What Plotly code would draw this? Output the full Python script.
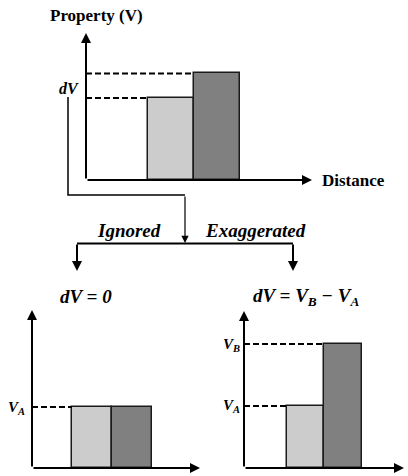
import plotly.graph_objects as go

# ---- data -------------------------------------------------------------
categories = ["A", "B"]                 # the two adjacent regions
top_heights = [1.0, 1.3]                # property V in region A and B
ignored_heights = [1.0, 1.0]            # dV ignored: both at V_A
exaggerated_heights = [1.0, 2.0]        # dV exaggerated: V_A and V_B
bar_colors = ["#cccccc", "#808080"]

# ---- canvas helpers ---------------------------------------------------
W, H = 408, 476
FONT = "Liberation Serif, Times New Roman, serif"


def px(x):
    return x / W


def py(y):
    return 1 - y / H


fig = go.Figure()

# panel geometry: (left, right, bottom, top, centre of bar A, bar width, px per unit)
panels = [
    dict(ax="", heights=top_heights, left=86, right=312, bottom=180, top=33,
         a_center=171, bar_w=46, unit_px=82),
    dict(ax="2", heights=ignored_heights, left=32, right=200, bottom=468, top=310,
         a_center=92, bar_w=40, unit_px=61),
    dict(ax="3", heights=exaggerated_heights, left=244, right=404, bottom=468, top=311,
         a_center=305.5, bar_w=37.5, unit_px=62),
]

shapes = []
annotations = []

for p in panels:
    xr = [-(p["a_center"] - p["left"]) / p["bar_w"], (p["right"] - p["a_center"]) / p["bar_w"]]
    yr = [0, (p["bottom"] - p["top"]) / p["unit_px"]]
    xa, ya = "x" + p["ax"], "y" + p["ax"]
    fig.add_trace(go.Bar(
        x=list(range(len(categories))), y=p["heights"], width=1,
        marker=dict(color=bar_colors, line=dict(color="#1a1a1a", width=1.5)),
        xaxis=xa, yaxis=ya, hoverinfo="skip", showlegend=False,
    ))
    axis_style = dict(showgrid=False, zeroline=False, showline=False,
                      showticklabels=False, ticks="", fixedrange=True)
    fig.update_layout(**{
        "xaxis" + p["ax"]: dict(domain=[px(p["left"]), px(p["right"])], range=xr,
                                anchor=ya, **axis_style),
        "yaxis" + p["ax"]: dict(domain=[py(p["bottom"]), py(p["top"])], range=yr,
                                anchor=xa, **axis_style),
    })
    # dashed guides from the axis to the left edge of each bar, at its height
    seen = set()
    for i, h in enumerate(p["heights"]):
        if h in seen:
            continue
        seen.add(h)
        shapes.append(dict(type="line", xref=xa, yref=ya, x0=xr[0], x1=i - 0.5,
                           y0=h, y1=h, line=dict(color="black", width=2, dash="6px,3px")))
    # axis arrows
    plot_h = p["bottom"] - p["top"]
    plot_w = p["right"] - p["left"]
    annotations.append(dict(xref=xa + " domain", yref=ya + " domain", x=0, y=1,
                            ax=0, ay=plot_h, axref="pixel", ayref="pixel", text="",
                            showarrow=True, arrowhead=2, arrowsize=1, arrowwidth=2,
                            arrowcolor="black"))
    annotations.append(dict(xref=xa + " domain", yref=ya + " domain", x=1, y=0,
                            ax=-plot_w, ay=0, axref="pixel", ayref="pixel", text="",
                            showarrow=True, arrowhead=2, arrowsize=1, arrowwidth=2,
                            arrowcolor="black"))

# ---- flow lines between the panels ----------------------------------
shapes.append(dict(type="path", xref="paper", yref="paper",
                   path=f"M{px(68)},{py(97)} L{px(68)},{py(195)} L{px(185)},{py(195)}",
                   line=dict(color="black", width=1.5)))
shapes.append(dict(type="line", xref="paper", yref="paper",
                   x0=px(77), x1=px(293), y0=py(243.5), y1=py(243.5),
                   line=dict(color="black", width=2)))
annotations.append(dict(xref="paper", yref="paper", x=px(185), y=py(243), ax=0, ay=-48,
                        text="", showarrow=True, arrowhead=2, arrowsize=1.2,
                        arrowwidth=1.2, arrowcolor="black"))
for xx in (77, 293):
    annotations.append(dict(xref="paper", yref="paper", x=px(xx), y=py(271), ax=0, ay=-28,
                            text="", showarrow=True, arrowhead=2, arrowsize=1,
                            arrowwidth=2, arrowcolor="black"))


# ---- text -------------------------------------------------------------
def label(text, x, y, size, xanchor="center"):
    annotations.append(dict(xref="paper", yref="paper", x=px(x), y=py(y), text=text,
                            showarrow=False, xanchor=xanchor, yanchor="middle",
                            font=dict(family=FONT, size=size, color="black")))


label("<b>Property (V)</b>", 96, 16, 17)
label("<b>Distance</b>", 320, 180, 17, xanchor="left")
label("<b><i>dV</i></b>", 69, 88, 16)
label("<b><i>Ignored</i></b>", 129, 230, 19)
label("<b><i>Exaggerated</i></b>", 255, 230, 19)
label("<b><i>dV = 0</i></b>", 86, 296, 19)
label("<b><i>dV = V<sub>B</sub> − V<sub>A</sub></i></b>", 306, 297, 19)
label("<b><i>V<sub>A</sub></i></b>", 16, 408, 15)
label("<b><i>V<sub>B</sub></i></b>", 231, 345, 15)
label("<b><i>V<sub>A</sub></i></b>", 231, 406, 15)

fig.update_layout(
    width=W, height=H, margin=dict(l=0, r=0, t=0, b=0),
    paper_bgcolor="white", plot_bgcolor="rgba(0,0,0,0)",
    bargap=0, shapes=shapes, annotations=annotations, showlegend=False,
)

fig.write_html("out.html")
